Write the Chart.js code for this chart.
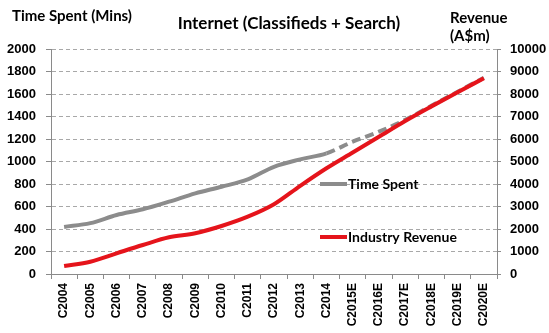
<!DOCTYPE html>
<html>
<head>
<meta charset="utf-8">
<script src="https://cdn.jsdelivr.net/npm/chart.js@4.4.1/dist/chart.umd.min.js"></script>
<style>
  html, body { margin: 0; padding: 0; background: #fff; }
  #wrap { width: 549px; height: 333px; }
</style>
</head>
<body>
<div id="wrap"><canvas id="chart" width="549" height="333"></canvas></div>
<script>
// years, actual up to C2014 then estimates
const years = ["C2004", "C2005", "C2006", "C2007", "C2008", "C2009", "C2010", "C2011", "C2012",
  "C2013", "C2014", "C2015E", "C2016E", "C2017E", "C2018E", "C2019E", "C2020E"];

// minutes spent (left axis)
const timeSpent = [418, 452, 524, 575, 643, 717, 776, 841, 953, 1019, 1073, 1176, 1265, 1370, 1495, 1620, 1745];

// industry revenue in A$m (right axis)
const revenue = [356, 547, 920, 1289, 1631, 1809, 2133, 2547, 3100, 3920, 4700, 5400, 6100, 6800, 7450, 8080, 8700];

const leftTicks = [0, 200, 400, 600, 800, 1000, 1200, 1400, 1600, 1800, 2000];
const rightTicks = [0, 1000, 2000, 3000, 4000, 5000, 6000, 7000, 8000, 9000, 10000];

const firstEstimate = 10; // dashed from C2014 onwards

const GREY = "#8c8c8c";
const RED = "#e5141b";
const AXIS = "#8a8a8a";
const numFont = { family: "'Liberation Sans', Arial, sans-serif", size: 13, weight: "bold" };
const catFont = { family: "'Liberation Sans', Arial, sans-serif", size: 12, weight: "bold" };

// headings and in-plot legend
const labelsPlugin = {
  id: "labels",
  afterDraw(chart) {
    const ctx = chart.ctx;
    ctx.save();
    ctx.fillStyle = "#000";
    ctx.textBaseline = "alphabetic";

    ctx.font = "bold 15px Lato, sans-serif";
    ctx.textAlign = "left";
    ctx.fillText("Time Spent (Mins)", 12, 21);
    ctx.fillText("Revenue", 450, 23);
    ctx.fillText("(A$m)", 450, 41);

    ctx.font = "bold 17px Lato, sans-serif";
    ctx.textAlign = "center";
    ctx.fillText("Internet (Classifieds + Search)", 289, 29);

    // legend
    const items = [
      { text: "Time Spent", color: GREY, y: 184 },
      { text: "Industry Revenue", color: RED, y: 237 }
    ];
    ctx.font = "bold 14px Lato, sans-serif";
    ctx.textAlign = "left";
    ctx.textBaseline = "middle";
    items.forEach(it => {
      ctx.strokeStyle = it.color;
      ctx.lineWidth = 4;
      ctx.beginPath();
      ctx.moveTo(320, it.y);
      ctx.lineTo(347, it.y);
      ctx.stroke();
      ctx.fillStyle = "#000";
      ctx.fillText(it.text, 348, it.y);
    });
    ctx.restore();
  }
};

const ctx = document.getElementById("chart").getContext("2d");
new Chart(ctx, {
  type: "line",
  data: {
    labels: years,
    datasets: [
      {
        label: "Industry Revenue",
        data: revenue,
        yAxisID: "y1",
        borderColor: RED,
        borderWidth: 4,
        pointRadius: 0,
        cubicInterpolationMode: "monotone",
        order: 1
      },
      {
        label: "Time Spent",
        data: timeSpent,
        yAxisID: "y",
        borderColor: GREY,
        borderWidth: 4,
        pointRadius: 0,
        cubicInterpolationMode: "monotone",
        order: 2,
        segment: {
          borderDash: c => c.p0DataIndex >= firstEstimate ? [9, 5] : undefined
        }
      }
    ]
  },
  options: {
    responsive: false,
    animation: false,
    layout: { padding: { top: 49 } },
    plugins: {
      legend: { display: false },
      tooltip: { enabled: false }
    },
    scales: {
      x: {
        offset: true,
        grid: { offset: true, drawOnChartArea: false, tickLength: 5, tickColor: AXIS },
        border: { color: AXIS },
        ticks: { font: catFont, color: "#000", maxRotation: 90, minRotation: 90, autoSkip: false, padding: 4 },
        afterFit: s => { s.height = 59; }
      },
      y: {
        position: "left",
        min: 0,
        max: 2000,
        afterBuildTicks: s => { s.ticks = leftTicks.map(v => ({ value: v })); },
        grid: { display: true, drawOnChartArea: true, color: "#a8a8a8", lineWidth: 1, tickColor: AXIS, tickLength: 5 },
        border: { color: AXIS, dash: [4, 3] },
        ticks: { font: numFont, color: "#000", padding: 10, callback: v => String(v) },
        afterFit: s => { s.width = 51; }
      },
      y1: {
        position: "right",
        min: 0,
        max: 10000,
        afterBuildTicks: s => { s.ticks = rightTicks.map(v => ({ value: v })); },
        grid: { drawOnChartArea: false, tickColor: AXIS, tickLength: 4 },
        border: { color: AXIS },
        ticks: { font: numFont, color: "#000", padding: 9, callback: v => String(v) },
        afterFit: s => { s.width = 52; }
      }
    }
  },
  plugins: [labelsPlugin]
});
</script>
</body>
</html>
